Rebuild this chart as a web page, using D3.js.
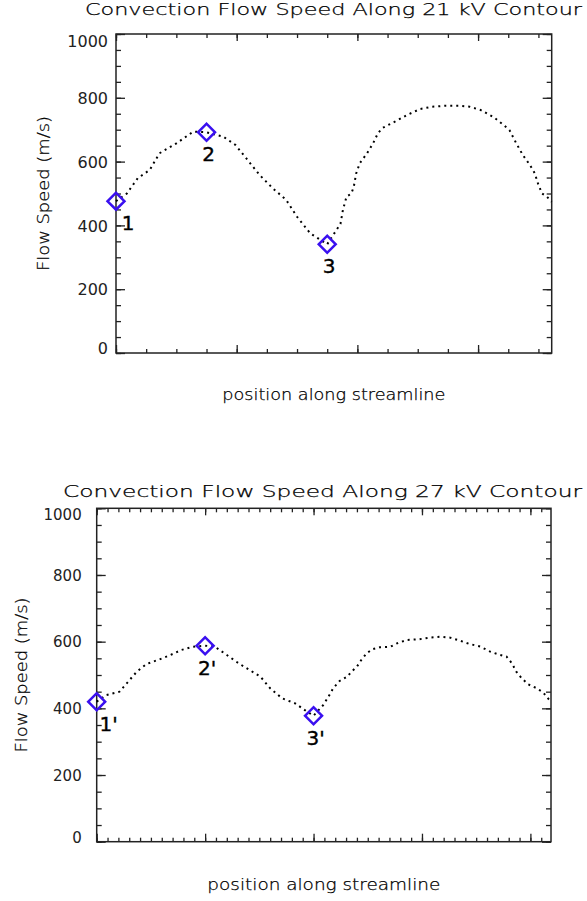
<!DOCTYPE html>
<html>
<head>
<meta charset="utf-8">
<script src="https://cdn.jsdelivr.net/npm/d3@7"></script>
<style>
body { margin: 0; background: #fff; }
text { font-family: 'DejaVu Sans', sans-serif; }
</style>
</head>
<body>
<div id="chart"></div>
<script>
// values
var speedTicks = [0, 200, 400, 600, 800, 1000];
var titles = ['Convection Flow Speed Along 21 kV Contour', 'Convection Flow Speed Along 27 kV Contour'];
var xTitle = 'position along streamline';
var yTitle = 'Flow Speed (m/s)';

// 21 kV contour
var pos21 = [0, 0.09, 0.18, 0.28, 0.36, 0.5, 0.64, 0.75, 0.89, 0.99, 1.08, 1.19, 1.3, 1.41, 1.5, 1.61, 1.75,
	1.86, 1.88, 1.91, 1.95, 1.97, 1.99, 2.02, 2.08, 2.13, 2.17, 2.21, 2.31, 2.41, 2.52, 2.62, 2.73, 2.84,
	2.93, 3.02, 3.13, 3.21, 3.26, 3.31, 3.37, 3.43, 3.47, 3.5, 3.53, 3.57, 3.61];
var speed21 = [476, 500, 548, 574, 626, 657, 694, 692, 678, 652, 610, 558, 516, 480, 427, 375, 341,
	405, 448, 490, 500, 521, 563, 595, 626, 657, 689, 706, 725, 746, 765, 772, 775, 775,
	772, 762, 739, 715, 699, 662, 621, 589, 563, 527, 500, 490, 474];
var markPos21 = [0, 0.75, 1.75];
var markSpeed21 = [476, 692, 341];
var markNames21 = ['1', '2', '3'];
var xMax21 = 3.61;

// 27 kV contour
var pos27 = [0, 0.09, 0.21, 0.29, 0.37, 0.46, 0.58, 0.68, 0.78, 0.89, 1, 1.09, 1.2, 1.31, 1.41, 1.51, 1.6,
	1.71, 1.83, 1.94, 2, 2.09, 2.15, 2.18, 2.24, 2.31, 2.35, 2.4, 2.44, 2.49, 2.54, 2.61, 2.71, 2.77,
	2.86, 2.97, 3.07, 3.17, 3.26, 3.35, 3.44, 3.54, 3.63, 3.72, 3.78, 3.83, 3.87, 3.92, 3.98, 4.06,
	4.12, 4.17, 4.19];
var speed27 = [420, 440, 450, 480, 510, 533, 547, 560, 575, 585, 588, 585, 560, 535, 515, 495, 460,
	430, 415, 390, 378, 410, 442, 460, 482, 495, 510, 525, 545, 565, 577, 583, 585, 595,
	605, 607, 612, 615, 612, 603, 593, 585, 570, 560, 555, 535, 510, 490, 472, 460,
	447, 427, 420];
var markPos27 = [0, 1, 2];
var markSpeed27 = [420, 588, 378];
var markNames27 = ["1'", "2'", "3'"];
var xMax27 = 4.19;

var svg = d3.select('#chart')
	.append('svg')
	.attr('width', 587)
	.attr('height', 901)
	.style('background', '#fff');

var drawPanel = function(p) {

	var x = d3.scaleLinear().domain([0, p.xMax]).range([p.left, p.right]);
	var y = d3.scaleLinear().domain([0, 1000]).range([p.bottom, p.top]);

	var g = svg.append('g');

	var majorX = d3.range(0, p.xMax + 1e-9, 1);
	var minorX = d3.range(0, p.xMax + 1e-9, p.minorStep);
	var minorY = d3.range(0, 1000 + 1e-9, 50);

	var tickAxis = function(axis, values, size, tx, ty) {
		g.append('g')
			.attr('transform', 'translate(' + tx + ',' + ty + ')')
			.call(axis.tickValues(values).tickSize(-size).tickFormat(''))
			.call(function(s) {
				s.select('.domain').remove();
				s.selectAll('line').attr('stroke', '#222').attr('stroke-width', 1.3);
			});
	};

	// bottom / top ticks
	tickAxis(d3.axisBottom(x), minorX, 4, 0, p.bottom);
	tickAxis(d3.axisBottom(x), majorX, 8, 0, p.bottom);
	tickAxis(d3.axisTop(x), minorX, 4, 0, p.top);
	tickAxis(d3.axisTop(x), majorX, 7, 0, p.top);
	// left / right ticks
	tickAxis(d3.axisLeft(y), minorY, 5, p.left, 0);
	tickAxis(d3.axisLeft(y), speedTicks, 9, p.left, 0);
	tickAxis(d3.axisRight(y), minorY, 5, p.right, 0);
	tickAxis(d3.axisRight(y), speedTicks, 9, p.right, 0);

	// y tick labels
	g.append('g')
		.attr('transform', 'translate(' + p.left + ',0)')
		.call(d3.axisLeft(y).tickValues(speedTicks).tickSize(0).tickPadding(p.labelGap).tickFormat(d3.format('d')))
		.call(function(s) {
			s.select('.domain').remove();
			s.selectAll('text')
				.attr('fill', '#222')
				.style('font-size', p.tickFont + 'px')
				.attr('font-family', 'DejaVu Sans')
				.attr('dy', function(d) {
					if (d === 1000) return '0.75em';
					if (d === 0) return '0.05em';
					return '0.35em';
				});
		});

	// frame
	g.append('rect')
		.attr('x', p.left)
		.attr('y', p.top)
		.attr('width', p.right - p.left)
		.attr('height', p.bottom - p.top)
		.attr('fill', 'none')
		.attr('stroke', '#222')
		.attr('stroke-width', 1.5);

	// dotted speed line
	var line = d3.line()
		.x(function(d) {return x(d[0])})
		.y(function(d) {return y(d[1])});

	g.append('path')
		.datum(d3.zip(p.pos, p.speed))
		.attr('d', line)
		.attr('fill', 'none')
		.attr('stroke', '#000')
		.attr('stroke-width', 2)
		.attr('stroke-dasharray', '2,4');

	// diamond markers
	var marks = d3.zip(p.markPos, p.markSpeed, p.markNames);

	g.selectAll('.mark')
		.data(marks)
		.enter()
		.append('path')
		.attr('class', 'mark')
		.attr('d', d3.symbol(d3.symbolSquare, 144))
		.attr('transform', function(d) {return 'translate(' + x(d[0]) + ',' + y(d[1]) + ') rotate(45)'})
		.attr('fill', 'none')
		.attr('stroke', '#3a10f0')
		.attr('stroke-width', 2.5);

	g.selectAll('.mark-label')
		.data(marks)
		.enter()
		.append('text')
		.attr('class', 'mark-label')
		.attr('x', function(d, i) {return x(d[0]) + (i === 0 ? 12 : 2)})
		.attr('y', function(d) {return y(d[1]) + 29})
		.attr('text-anchor', 'middle')
		.style('font-size', '20px')
		.attr('fill', '#000')
		.attr('stroke', '#000')
		.attr('stroke-width', 0.4)
		.text(function(d) {return d[2]});

	// titles
	g.append('text')
		.attr('x', p.titleX)
		.attr('y', p.titleY)
		.attr('textLength', p.titleW)
		.attr('lengthAdjust', 'spacingAndGlyphs')
		.style('font-size', '15.5px')
		.style('font-weight', 200)
		.attr('fill', '#000')
		.attr('stroke', '#000')
		.attr('stroke-width', 0.25)
		.text(p.title);

	g.append('text')
		.attr('x', (p.left + p.right) / 2)
		.attr('y', p.xlabelY)
		.attr('text-anchor', 'middle')
		.attr('textLength', p.xlabelW)
		.attr('lengthAdjust', 'spacingAndGlyphs')
		.style('font-size', '16px')
		.style('font-weight', 200)
		.attr('fill', '#000')
		.attr('stroke', '#000')
		.attr('stroke-width', 0.25)
		.text(xTitle);

	g.append('text')
		.attr('transform', 'translate(' + p.ylabelX + ',' + ((p.top + p.bottom) / 2) + ') rotate(-90)')
		.attr('text-anchor', 'middle')
		.attr('dy', '0.35em')
		.attr('textLength', p.ylabelW)
		.attr('lengthAdjust', 'spacingAndGlyphs')
		.style('font-size', '16px')
		.style('font-weight', 200)
		.attr('fill', '#000')
		.attr('stroke', '#000')
		.attr('stroke-width', 0.25)
		.text(yTitle);
};

drawPanel({
	title: titles[0], pos: pos21, speed: speed21, xMax: xMax21,
	markPos: markPos21, markSpeed: markSpeed21, markNames: markNames21,
	left: 116, right: 551.7, top: 34, bottom: 353, minorStep: 0.25,
	titleX: 85, titleY: 15, titleW: 497,
	xlabelY: 400, xlabelW: 223,
	ylabelX: 43, ylabelW: 155,
	tickFont: 16, labelGap: 8
});

drawPanel({
	title: titles[1], pos: pos27, speed: speed27, xMax: xMax27,
	markPos: markPos27, markSpeed: markSpeed27, markNames: markNames27,
	left: 96.7, right: 551, top: 508.3, bottom: 841.7, minorStep: 0.1,
	titleX: 63, titleY: 497, titleW: 519,
	xlabelY: 890, xlabelW: 233,
	ylabelX: 21, ylabelW: 155,
	tickFont: 15, labelGap: 15
});
</script>
</body>
</html>
